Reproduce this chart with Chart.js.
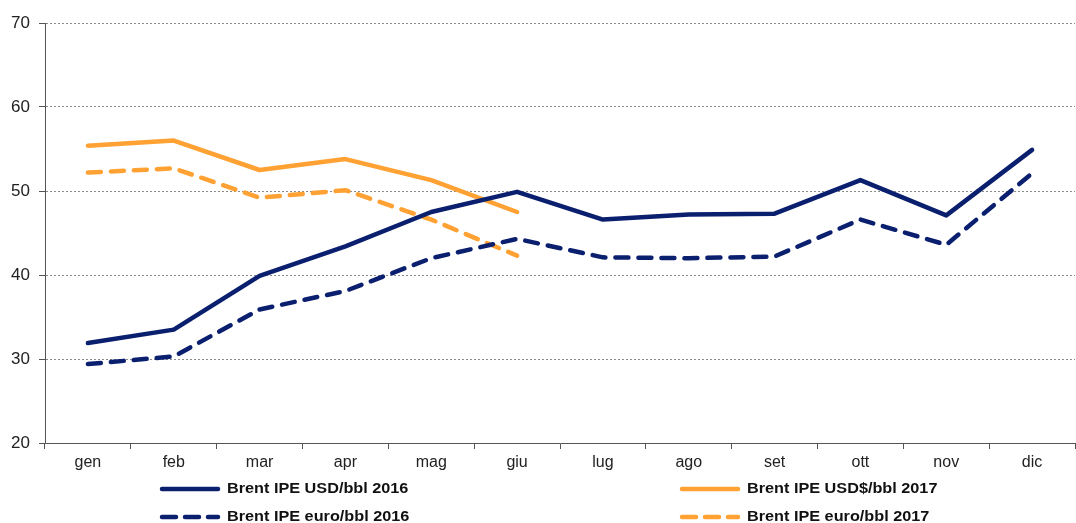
<!DOCTYPE html>
<html><head><meta charset="utf-8">
<script src="https://cdn.jsdelivr.net/npm/chart.js@4.4.1/dist/chart.umd.min.js"></script>
<style>html,body{margin:0;padding:0;background:#fff;}#wrap{width:1076px;height:523px;position:relative;}</style>
</head><body><div id="wrap"><canvas id="c" width="1076" height="523"></canvas></div>
<script>
const months = ['gen','feb','mar','apr','mag','giu','lug','ago','set','ott','nov','dic'];
const usd2016 = [31.9,33.5,39.9,43.4,47.5,49.9,46.6,47.2,47.3,51.3,47.1,54.9];
const eur2016 = [29.4,30.3,35.9,38.1,42.0,44.3,42.1,42.0,42.2,46.6,43.6,52.1];
const usd2017 = [55.4,56.0,52.5,53.8,51.3,47.5];
const eur2017 = [52.2,52.7,49.2,50.1,46.6,42.3];
const yTicks = [20,30,40,50,60,70];
const labels2016usd = 'Brent IPE USD/bbl 2016';
const labels2017usd = 'Brent IPE USD$/bbl 2017';
const labels2016eur = 'Brent IPE euro/bbl 2016';
const labels2017eur = 'Brent IPE euro/bbl 2017';

const NAVY = '#0b1f6f', ORANGE = '#ffa133';
const DASH = [13, 10];
const FONT = '"Liberation Sans", Arial, sans-serif';

const legendPlugin = {
  id: 'customLegend',
  afterDraw(chart) {
    const ctx = chart.ctx;
    const items = [
      {x:160, y:489, color:NAVY, dash:[], text:labels2016usd},
      {x:680, y:489, color:ORANGE, dash:[], text:labels2017usd},
      {x:160, y:517, color:NAVY, dash:[14,9], text:labels2016eur},
      {x:680, y:517, color:ORANGE, dash:[14,9], text:labels2017eur}
    ];
    ctx.save();
    items.forEach(it => {
      ctx.strokeStyle = it.color; ctx.lineWidth = 4.5; ctx.lineCap = 'round';
      ctx.setLineDash(it.dash);
      ctx.beginPath(); ctx.moveTo(it.x+2, it.y); ctx.lineTo(it.x+58, it.y); ctx.stroke();
      ctx.setLineDash([]);
      ctx.fillStyle = '#111'; ctx.font = 'bold 14px ' + FONT;
      ctx.textBaseline = 'middle'; ctx.textAlign = 'left';
      ctx.save();
      ctx.translate(it.x + 67, it.y);
      ctx.scale(1.16, 1);
      ctx.fillText(it.text, 0, 0);
      ctx.restore();
    });
    ctx.restore();
  }
};

new Chart(document.getElementById('c'), {
  type: 'line',
  data: {
    labels: months,
    datasets: [
      {label: labels2016usd, data: usd2016, borderColor: NAVY, borderWidth: 4.5, pointRadius: 0, tension: 0, borderCapStyle:'round', borderJoinStyle:'round'},
      {label: labels2016eur, data: eur2016, borderColor: NAVY, borderWidth: 4.5, pointRadius: 0, tension: 0, borderDash: DASH, borderCapStyle:'round', borderJoinStyle:'round'},
      {label: labels2017usd, data: usd2017, borderColor: ORANGE, borderWidth: 4.5, pointRadius: 0, tension: 0, borderCapStyle:'round', borderJoinStyle:'round'},
      {label: labels2017eur, data: eur2017, borderColor: ORANGE, borderWidth: 4.5, pointRadius: 0, tension: 0, borderDash: DASH, borderCapStyle:'round', borderJoinStyle:'round'}
    ]
  },
  options: {
    responsive: false,
    animation: false,
    layout: {padding: {top: 23, right: 1, bottom: 0, left: 0}},
    plugins: {legend: {display: false}, tooltip: {enabled: false}},
    scales: {
      y: {
        min: 20, max: 70,
        afterBuildTicks(s){ s.ticks = yTicks.map(v => ({value: v})); },
        afterFit(s){ s.width = 45; },
        border: {display: true, color: '#555', width: 1, dash: [2, 2]},
        grid: {color: '#8a8a8a', lineWidth: 1, tickLength: 6, drawTicks: true, tickColor:'#555', tickBorderDash:[20, 0]},
        ticks: {color: '#222', padding: 9, font: {family: FONT, size: 17}}
      },
      x: {
        offset: true,
        afterFit(s){ s.height = 80; },
        border: {display: true, color: '#555', width: 1},
        grid: {offset: true, drawOnChartArea: false, drawTicks: true, tickLength: 6, color: '#555'},
        ticks: {color: '#222', padding: 4, font: {family: FONT, size: 16}}
      }
    }
  },
  plugins: [legendPlugin]
});
</script></body></html>
